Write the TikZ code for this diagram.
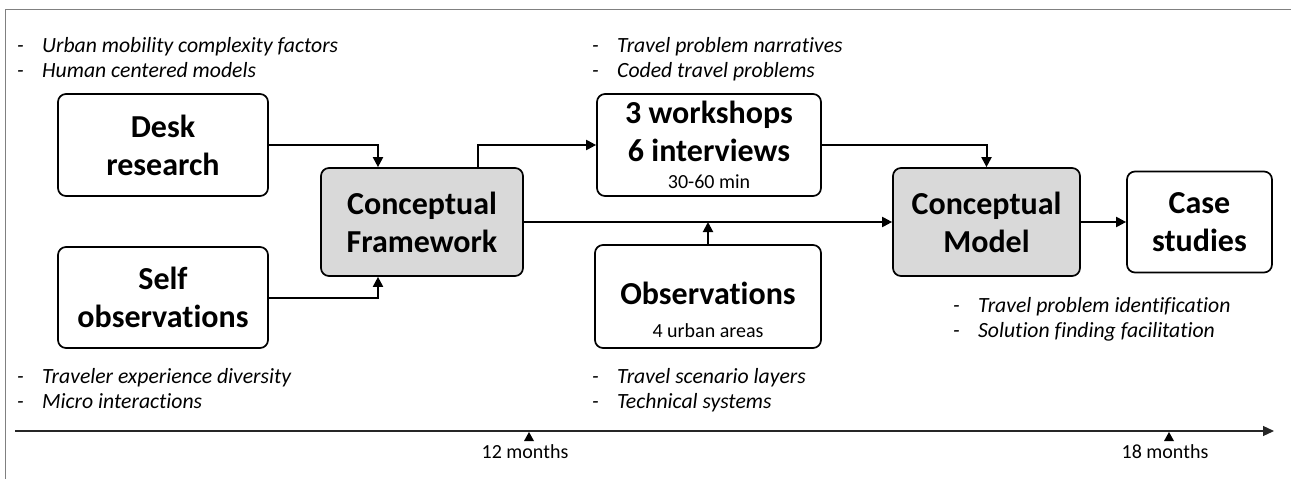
\documentclass[tikz,border=0pt]{standalone}
\usepackage{fontspec}
\setmainfont{Carlito}[Ligatures={NoCommon}]
\usetikzlibrary{arrows.meta}
\definecolor{boxgray}{HTML}{D9D9D9}
\definecolor{framecol}{HTML}{808080}
\newcommand\itemdash{\makebox[25pt][l]{-}}
\begin{document}
\begin{tikzpicture}[x=1pt,y=-1pt,
  box/.style={draw, line width=1.7pt, rounded corners=8pt, fill=white, align=center, inner sep=0pt, font=\bfseries\fontsize{32}{38}\selectfont},
  gbox/.style={box, fill=boxgray},
  conn/.style={line width=2pt, -{Triangle[length=10pt,width=10pt]}},
  listitem/.style={anchor=base west, inner sep=0pt, font=\itshape\fontsize{21.7}{25}\selectfont},
  subtext/.style={anchor=base, inner sep=0pt, font=\fontsize{20}{24}\selectfont},
  bigtext/.style={anchor=base, inner sep=0pt, font=\bfseries\fontsize{32}{38}\selectfont},
  tick/.style={fill=black}
]
\useasboundingbox (0,0) rectangle (1291,479);
\fill[white] (0,0) rectangle (1291,479);
% outer frame
\draw[framecol, line width=1pt] (5.5,479) -- (5.5,9.5) -- (1291,9.5);

% boxes
\node[box, minimum width=210pt, minimum height=102pt] (desk) at (163,145) {Desk\\research};
\node[box, minimum width=210pt, minimum height=101pt] (self) at (163,297.5) {Self\\observations};
\node[gbox, minimum width=202pt, minimum height=108pt] (fw) at (422,222) {Conceptual\\Framework};
\node[box, minimum width=224pt, minimum height=102pt] (ws) at (709,145) {};
\node[bigtext] (ws1) at (709,123) {3 workshops};
\node[bigtext] (ws2) at (709,161) {6 interviews};
\node[subtext] (ws3) at (709,188) {30-60 min};
\node[box, minimum width=226pt, minimum height=103pt] (obs) at (708,296.5) {};
\node[bigtext] (obs1) at (708,304) {Observations};
\node[subtext] (obs2) at (708,337) {4 urban areas};
\node[gbox, minimum width=187pt, minimum height=108pt] (model) at (986.5,222) {Conceptual\\Model};
\node[box, minimum width=145pt, minimum height=101pt] (case) at (1199.5,222) {Case\\studies};

% connectors
\draw[conn] (desk.east) -| ([xshift=-44pt]fw.north);
\draw[conn] (self.east) -| ([xshift=-44pt]fw.south);
\draw[conn] ([xshift=56pt]fw.north) |- (ws.west);
\draw[conn] (ws.east) -| (model.north);
\draw[conn] (fw.east) -- (model.west);
\draw[conn] (obs.north) -- (obs.north |- fw.east);
\draw[conn] (model.east) -- (case.west);

% lists
\node[listitem] (l1a) at (17,52) {\itemdash Urban mobility complexity factors};
\node[listitem] (l1b) at (17,77) {\itemdash Human centered models};
\node[listitem] (l2a) at (592,52) {\itemdash Travel problem narratives};
\node[listitem] (l2b) at (592,77) {\itemdash Coded travel problems};
\node[listitem] (l3a) at (953,312) {\itemdash Travel problem identification};
\node[listitem] (l3b) at (953,337) {\itemdash Solution finding facilitation};
\node[listitem] (l4a) at (17,383) {\itemdash Traveler experience diversity};
\node[listitem] (l4b) at (17,408) {\itemdash Micro interactions};
\node[listitem] (l5a) at (592,383) {\itemdash Travel scenario layers};
\node[listitem] (l5b) at (592,408) {\itemdash Technical systems};

% timeline
\coordinate (tl0) at (15,431);
\coordinate (tl1) at (1274,431);
\draw[line width=1.2pt, black!85, -{Triangle[length=11pt,width=10pt]}] (tl0) -- (tl1);
\coordinate (t12) at (529,432);
\coordinate (t18) at (1169,432);
\fill[tick] (t12) -- ++(-5,9) -- ++(10,0) -- cycle;
\fill[tick] (t18) -- ++(-5,9) -- ++(10,0) -- cycle;
\node[subtext] (m12) at (525,458) {12 months};
\node[subtext] (m18) at (1165,458) {18 months};
\end{tikzpicture}
\end{document}
